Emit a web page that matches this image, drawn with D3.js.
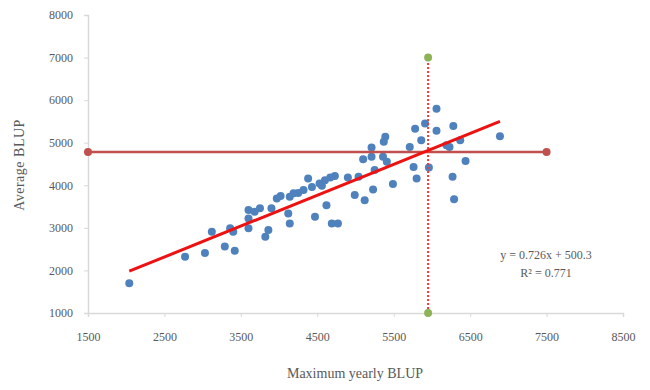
<!DOCTYPE html>
<html>
  <head>
    <meta charset="utf-8">
    <title>BLUP scatter</title>
    <script src="https://d3js.org/d3.v7.min.js"></script>
    <style>
      body { margin: 0; background: #fff; }
      text { font-family: "Liberation Serif", "Times New Roman", serif; fill: #595959; }
    </style>
  </head>
  <body>

  <script type="text/javascript">
    // points: maximum yearly BLUP vs average BLUP
    var maxBlup = [2040, 2770, 3030, 3290, 3420, 3120, 3360, 3400, 3600, 3600,
                   3820, 3860, 3750, 3900, 3970, 4120, 4140, 4190, 4380, 4470,
                   4620, 4690, 4770, 4730, 6060, 5910, 5780, 6060, 6280, 5860,
                   6370, 6190, 6230, 6890, 5390, 5370, 5710, 5210, 5100, 5210,
                   5360, 5410, 5760, 5960, 6440, 5800, 6270, 6290, 5490, 5250,
                   5230, 5120, 4990, 5040, 4900, 4670, 4600, 4530, 4430, 4320,
                   4140, 3600, 4250, 4560, 3680, 4020];
    var avgBlup = [1700, 2320, 2410, 2560, 2460, 2910, 2990, 2910, 2990, 3420,
                   2790, 2950, 3460, 3460, 3690, 3340, 3100, 3810, 4160, 3260,
                   3530, 3100, 3100, 4220, 5800, 5450, 5330, 5280, 5390, 5060,
                   5060, 4940, 4900, 5150, 5140, 5020, 4900, 4890, 4610, 4670,
                   4670, 4550, 4430, 4420, 4570, 4160, 4200, 3670, 4030, 4360,
                   3900, 3650, 3770, 4200, 4180, 4180, 4120, 4040, 3960, 3890,
                   3730, 3220, 3820, 3990, 3380, 3750];

    var xTicks = [1500, 2500, 3500, 4500, 5500, 6500, 7500, 8500];
    var yTicks = [1000, 2000, 3000, 4000, 5000, 6000, 7000, 8000];

    var meanLineX = [1500, 7500], meanLineY = 4780;
    var cutLineX = 5950, cutLineY = [1000, 7000];
    var slope = 0.726, intercept = 500.3, trendX = [2040, 6890];

    var svg = d3.select('body')
                .append('svg')
                .attr('width', 650)
                .attr('height', 390);

    var x = d3.scaleLinear().domain([1500, 8500]).range([88, 623]);
    var y = d3.scaleLinear().domain([1000, 8000]).range([313, 15]);

    /* axes */
    var xAxis = svg.append('g')
        .attr('transform', 'translate(0,' + y(1000) + ')')
        .call(d3.axisBottom(x).tickValues(xTicks).tickSize(4).tickPadding(15).tickFormat(d3.format('d')));
    var yAxis = svg.append('g')
        .attr('transform', 'translate(' + x(1500) + ',0)')
        .call(d3.axisLeft(y).tickValues(yTicks).tickSize(4).tickPadding(11).tickFormat(d3.format('d')));
    [xAxis, yAxis].forEach(function(a) {
      a.select('.domain').attr('stroke', '#d9d9d9').attr('stroke-width', 1.5);
      a.selectAll('.tick line').attr('stroke', '#d9d9d9');
      a.selectAll('text').style('font-size', '12px').attr('fill', '#595959')
       .style('font-family', '"Liberation Serif", serif');
    });

    svg.append('text')
       .attr('transform', 'translate(24,165) rotate(-90)')
       .attr('text-anchor', 'middle')
       .style('font-size', '14px')
       .style('letter-spacing', '0.5px')
       .text('Average BLUP');
    svg.append('text')
       .attr('x', 355).attr('y', 378)
       .attr('text-anchor', 'middle')
       .style('font-size', '14px')
       .text('Maximum yearly BLUP');

    /* points */
    svg.append('g').selectAll('circle')
       .data(d3.range(maxBlup.length))
       .enter()
       .append('circle')
       .attr('cx', function(i) { return x(maxBlup[i]); })
       .attr('cy', function(i) { return y(avgBlup[i]); })
       .attr('r', 4)
       .attr('fill', '#4f81bd');

    /* mean line */
    svg.append('line')
       .attr('x1', x(meanLineX[0])).attr('x2', x(meanLineX[1]))
       .attr('y1', y(meanLineY)).attr('y2', y(meanLineY))
       .attr('stroke', '#c0504d').attr('stroke-width', 2.5);
    svg.selectAll('.meanDot')
       .data(meanLineX)
       .enter()
       .append('circle')
       .attr('cx', function(d) { return x(d); })
       .attr('cy', y(meanLineY))
       .attr('r', 4)
       .attr('fill', '#c0504d');

    /* cut-off line */
    svg.append('line')
       .attr('x1', x(cutLineX)).attr('x2', x(cutLineX))
       .attr('y1', y(cutLineY[0])).attr('y2', y(cutLineY[1]))
       .attr('stroke', '#f0383a').attr('stroke-width', 2)
       .attr('stroke-dasharray', '2,2');
    svg.selectAll('.cutDot')
       .data(cutLineY)
       .enter()
       .append('circle')
       .attr('cx', x(cutLineX))
       .attr('cy', function(d) { return y(d); })
       .attr('r', 4)
       .attr('fill', '#8db356');

    /* trend line */
    svg.append('line')
       .attr('x1', x(trendX[0])).attr('y1', y(slope * trendX[0] + intercept))
       .attr('x2', x(trendX[1])).attr('y2', y(slope * trendX[1] + intercept))
       .attr('stroke', '#ee1111').attr('stroke-width', 3);

    svg.append('text')
       .attr('x', 546).attr('y', 259)
       .attr('text-anchor', 'middle')
       .style('font-size', '12px')
       .text('y = 0.726x + 500.3');
    svg.append('text')
       .attr('x', 546).attr('y', 277)
       .attr('text-anchor', 'middle')
       .style('font-size', '12px')
       .text('R² = 0.771');
  </script>
  </body>
</html>
